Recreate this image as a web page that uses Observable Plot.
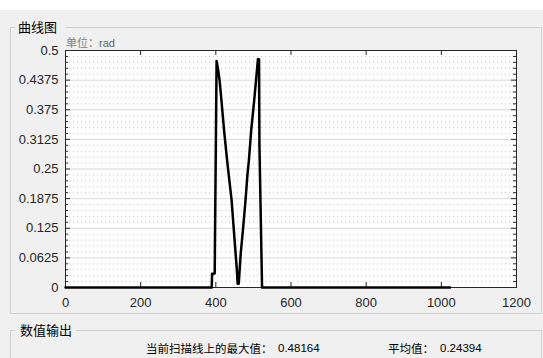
<!DOCTYPE html>
<html>
<head>
<meta charset="utf-8">
<script src="https://cdn.jsdelivr.net/npm/d3@7"></script>
<script src="https://cdn.jsdelivr.net/npm/@observablehq/plot@0.6"></script>
<style>
  html, body { margin: 0; padding: 0; }
  body { width: 543px; height: 358px; background: #f0f0f0; overflow: hidden; }
  #wrap { position: relative; width: 543px; height: 358px; }
  .abs { position: absolute; white-space: nowrap; }
  .cjk { font-family: "Noto Sans CJK SC", sans-serif; color: #000; }
  .num { font-family: "Liberation Sans", Arial, sans-serif; color: #000; }
  .hl { position: absolute; height: 0; border-top: 1px solid #d0d0d0; }
  .vl { position: absolute; width: 0; border-left: 1px solid #d0d0d0; }
  #chart { position: absolute; left: 0; top: 0; }
</style>
</head>
<body>
<div id="wrap">
  <div class="abs" style="left:0;top:0;width:543px;height:10px;background:#fff;"></div>
  <!-- group box 1 -->
  <div class="hl" style="left:10px;top:27px;width:5px;"></div>
  <div class="hl" style="left:66px;top:27px;width:476px;"></div>
  <div class="vl" style="left:10px;top:27px;height:286px;"></div>
  <div class="vl" style="left:541px;top:27px;height:286px;"></div>
  <div class="hl" style="left:10px;top:313px;width:532px;"></div>
  <div class="abs cjk" id="t1" style="left:18px;top:18px;font-size:13px;line-height:18px;">曲线图</div>
  <!-- group box 2 -->
  <div class="hl" style="left:10px;top:330px;width:5px;"></div>
  <div class="hl" style="left:76px;top:330px;width:466px;"></div>
  <div class="vl" style="left:10px;top:330px;height:28px;"></div>
  <div class="vl" style="left:541px;top:330px;height:28px;"></div>
  <div class="abs cjk" id="t2" style="left:20px;top:321px;font-size:13px;line-height:18px;">数值输出</div>
  <div id="chart"></div>
  <div class="abs cjk" id="unit" style="left:66px;top:34px;font-size:11px;line-height:16px;color:#808080;">单位：<span style="font-family:'Liberation Sans',Arial,sans-serif;color:#666;">rad</span></div>
  <div class="abs cjk" id="maxl" style="left:146px;top:340px;font-size:11.5px;line-height:16px;">当前扫描线上的最大值：</div>
  <div class="abs num" id="maxv" style="left:278px;top:340px;font-size:11.5px;line-height:16px;"></div>
  <div class="abs cjk" id="avgl" style="left:388px;top:340px;font-size:11.5px;line-height:16px;">平均值：</div>
  <div class="abs num" id="avgv" style="left:440px;top:340px;font-size:11.5px;line-height:16px;"></div>
</div>
<script>
// ---- data ----
const xs = [0, 389, 390, 396, 397, 402, 406, 410, 415, 422, 430, 442, 450, 456, 458, 461, 466, 472, 479, 484, 488, 494, 502, 507, 512, 515, 516, 523, 1023];
const ys = [0, 0, 0.029, 0.029, 0.03, 0.478, 0.46, 0.437, 0.394, 0.331, 0.268, 0.184, 0.099, 0.036, 0.008, 0.008, 0.07, 0.12, 0.184, 0.237, 0.268, 0.331, 0.394, 0.437, 0.4816, 0.4816, 0.3, 0, 0];
const yTicks = [0, 0.0625, 0.125, 0.1875, 0.25, 0.3125, 0.375, 0.4375, 0.5];
const yLabels = ["0", "0.0625", "0.125", "0.1875", "0.25", "0.3125", "0.375", "0.4375", "0.5"];
const xTicks = [0, 200, 400, 600, 800, 1000, 1200];
const xLabels = ["0", "200", "400", "600", "800", "1000", "1200"];
const maxValue = "0.48164";
const meanValue = "0.24394";

const data = xs.map((x, i) => ({x, y: ys[i]}));
const yMinor = d3.range(0, 40).map(i => i * 0.0125).filter((v, i) => i % 5 !== 0 && v <= 0.5);

const W = 543, H = 358;
const mL = 65, mR = 27, mT = 50, mB = 71;
const pw = W - mL - mR, ph = H - mT - mB;
const axisColor = "#262626";

const chart = Plot.plot({
  width: W, height: H,
  marginLeft: mL, marginRight: mR, marginTop: mT, marginBottom: mB,
  style: {background: "transparent", fontFamily: "'Liberation Sans', Arial, sans-serif", fontSize: "13px", color: axisColor, overflow: "visible"},
  x: {domain: [0, 1200]},
  y: {domain: [0, 0.5]},
  marks: [
    Plot.frame({fill: "white", stroke: "none"}),
    Plot.ruleY(yMinor, {stroke: "#c4c4c4", strokeDasharray: "1,3", strokeWidth: 1}),
    Plot.ruleY(yTicks, {stroke: "#d8d8d8", strokeWidth: 1}),
    Plot.frame({stroke: axisColor, strokeWidth: 1}),
    Plot.tickY(yTicks, {stroke: axisColor, insetRight: pw - 5}),
    Plot.tickY(yTicks, {stroke: axisColor, insetLeft: pw - 5}),
    Plot.tickY(yMinor, {stroke: axisColor, insetRight: pw - 3}),
    Plot.tickY(yMinor, {stroke: axisColor, insetLeft: pw - 3}),
    Plot.tickX(xTicks, {stroke: axisColor, insetBottom: ph - 5}),
    Plot.tickX(xTicks, {stroke: axisColor, insetTop: ph - 5}),
    Plot.axisY(yTicks, {tickSize: 0, tickPadding: 7, tickFormat: (d, i) => yLabels[i], label: null, fontSize: 13}),
    Plot.axisX(xTicks, {tickSize: 0, tickPadding: 10, tickFormat: (d, i) => xLabels[i], label: null, fontSize: 13}),
    Plot.line(data, {x: "x", y: "y", stroke: "black", strokeWidth: 2.5, strokeLinejoin: "round"})
  ]
});
document.getElementById("chart").appendChild(chart);
document.getElementById("maxv").textContent = maxValue;
document.getElementById("avgv").textContent = meanValue;
</script>
</body>
</html>
